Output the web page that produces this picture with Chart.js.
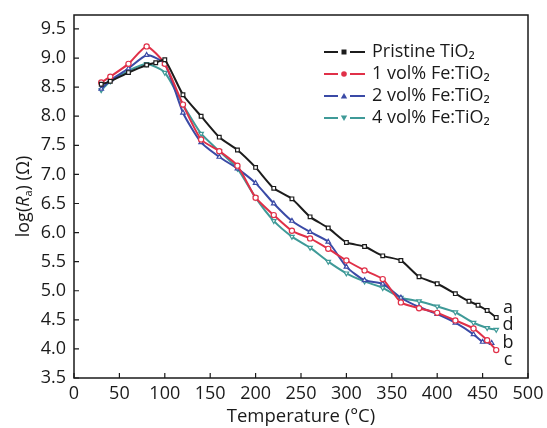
<!DOCTYPE html>
<html>
<head>
<meta charset="utf-8">
<script src="https://cdn.jsdelivr.net/npm/chart.js@4"></script>
<style>
  html, body { margin: 0; padding: 0; background: #fff; }
  #wrap { width: 547px; height: 428px; }
</style>
</head>
<body>
<div id="wrap"><canvas id="resistanceChart"></canvas></div>
<script>
// temperatures (°C) and log(Ra) values
const pristineTemp = [30, 40, 60, 80, 90, 100, 120, 140, 160, 180, 200, 220, 240, 260, 280, 300, 320, 340, 360, 380, 400, 420, 435, 445, 455, 465];
const pristineLog = [8.55, 8.6, 8.75, 8.88, 8.92, 8.97, 8.37, 8.0, 7.64, 7.42, 7.12, 6.76, 6.58, 6.27, 6.08, 5.83, 5.76, 5.6, 5.52, 5.24, 5.12, 4.95, 4.82, 4.75, 4.66, 4.54];

const fe1Temp = [30, 40, 60, 80, 100, 120, 140, 160, 180, 200, 220, 240, 260, 280, 300, 320, 340, 360, 380, 400, 420, 440, 455, 465];
const fe1Log = [8.58, 8.68, 8.9, 9.2, 8.9, 8.2, 7.6, 7.4, 7.15, 6.6, 6.3, 6.03, 5.9, 5.72, 5.52, 5.35, 5.2, 4.8, 4.7, 4.62, 4.49, 4.35, 4.15, 3.98];

const fe2Temp = [30, 40, 60, 80, 100, 120, 140, 160, 180, 200, 220, 240, 260, 280, 300, 320, 340, 360, 380, 400, 420, 440, 450, 460];
const fe2Log = [8.47, 8.62, 8.82, 9.05, 8.9, 8.06, 7.55, 7.3, 7.1, 6.85, 6.5, 6.2, 6.01, 5.84, 5.41, 5.18, 5.12, 4.88, 4.72, 4.6, 4.45, 4.25, 4.12, 4.1];

const fe4Temp = [30, 40, 60, 80, 100, 120, 140, 160, 180, 200, 220, 240, 260, 280, 300, 320, 340, 360, 380, 400, 420, 440, 455, 465];
const fe4Log = [8.45, 8.6, 8.78, 8.9, 8.75, 8.2, 7.7, 7.4, 7.1, 6.6, 6.2, 5.93, 5.74, 5.5, 5.3, 5.16, 5.05, 4.88, 4.82, 4.73, 4.63, 4.45, 4.36, 4.33];

const seriesNames = ["Pristine TiO₂", "1 vol% Fe:TiO₂", "2 vol% Fe:TiO₂", "4 vol% Fe:TiO₂"];
const xTicks = [0, 50, 100, 150, 200, 250, 300, 350, 400, 450, 500];
const yTicks = [3.5, 4.0, 4.5, 5.0, 5.5, 6.0, 6.5, 7.0, 7.5, 8.0, 8.5, 9.0, 9.5];
const endLabels = ["a", "d", "b", "c"];
const endLabelTemp = [478, 478, 478, 478];
const endLabelLog = [4.7, 4.41, 4.1, 3.81];

const FONT = "'Open Sans', 'DejaVu Sans', sans-serif";
const INK = "#1a1a1a";

const colors = ["#1c1c1c", "#e03048", "#3a4aa6", "#3f9a98"];
const markers = ["rect", "circle", "triangle", "triangle"];
const markerRot = [0, 0, 0, 180];

const toPoints = (t, v) => t.map((x, i) => ({ x: x, y: v[i] }));
const temps = [pristineTemp, fe1Temp, fe2Temp, fe4Temp];
const logs = [pristineLog, fe1Log, fe2Log, fe4Log];

const datasets = seriesNames.map((name, i) => ({
  label: name,
  data: toPoints(temps[i], logs[i]),
  borderColor: colors[i],
  borderWidth: 2,
  tension: 0.2,
  pointStyle: markers[i],
  rotation: markerRot[i],
  pointRadius: 2.6,
  pointBorderWidth: 1.2,
  pointBackgroundColor: "#ffffff",
  pointBorderColor: colors[i]
}));

// frame, inward tick marks, legend, y title, end letters
const decorations = {
  id: "decorations",
  afterDraw(chart) {
    const c = chart.ctx;
    const a = chart.chartArea;
    const xs = chart.scales.x;
    const ys = chart.scales.y;
    c.save();
    c.strokeStyle = INK;
    c.lineWidth = 1.5;
    c.strokeRect(a.left, a.top, a.right - a.left, a.bottom - a.top);

    c.lineWidth = 1.2;
    c.beginPath();
    xTicks.forEach(v => {
      const px = xs.getPixelForValue(v);
      c.moveTo(px, a.bottom);
      c.lineTo(px, a.bottom - 5);
    });
    yTicks.forEach(v => {
      const py = ys.getPixelForValue(v);
      c.moveTo(a.left, py);
      c.lineTo(a.left + 5, py);
    });
    c.stroke();

    // legend
    const rowY = [52, 74, 96, 118];
    seriesNames.forEach((name, i) => {
      const y = rowY[i];
      c.strokeStyle = colors[i];
      c.lineWidth = 2.2;
      c.beginPath();
      c.moveTo(324, y);
      c.lineTo(338, y);
      c.moveTo(350, y);
      c.lineTo(365, y);
      c.stroke();
      c.fillStyle = colors[i];
      c.beginPath();
      if (markers[i] === "rect") {
        c.rect(341.5, y - 2.5, 5, 5);
      } else if (markers[i] === "circle") {
        c.arc(344, y, 2.8, 0, Math.PI * 2);
      } else if (markerRot[i] === 0) {
        c.moveTo(344, y - 3); c.lineTo(347.2, y + 2.5); c.lineTo(340.8, y + 2.5);
      } else {
        c.moveTo(344, y + 3); c.lineTo(347.2, y - 2.5); c.lineTo(340.8, y - 2.5);
      }
      c.fill();
      c.fillStyle = INK;
      c.font = "18px " + FONT;
      c.textAlign = "left";
      c.textBaseline = "middle";
      c.fillText(name, 372, y);
    });

    // end letters
    c.font = "18px " + FONT;
    c.textAlign = "center";
    c.textBaseline = "middle";
    endLabels.forEach((t, i) => {
      c.fillText(t, xs.getPixelForValue(endLabelTemp[i]), ys.getPixelForValue(endLabelLog[i]));
    });

    // y title: log(R_a) (Ω)
    c.translate(24, (a.top + a.bottom) / 2);
    c.rotate(-Math.PI / 2);
    c.textAlign = "left";
    c.textBaseline = "middle";
    const parts = [
      { t: "log(", f: "18px " + FONT, dy: 0 },
      { t: "R", f: "italic 18px " + FONT, dy: 0 },
      { t: "a", f: "11px " + FONT, dy: 5 },
      { t: ") (Ω)", f: "18px " + FONT, dy: 0 }
    ];
    let w = 0;
    parts.forEach(p => { c.font = p.f; w += c.measureText(p.t).width; });
    let x = -w / 2;
    parts.forEach(p => {
      c.font = p.f;
      c.fillText(p.t, x, p.dy);
      x += c.measureText(p.t).width;
    });
    c.restore();
  }
};

const ctx = document.getElementById("resistanceChart");

new Chart(ctx, {
  type: "line",
  data: { datasets: datasets },
  options: {
    responsive: true,
    maintainAspectRatio: false,
    animation: false,
    layout: { padding: { left: 0, right: 19, top: 15, bottom: 0 } },
    plugins: {
      legend: { display: false },
      tooltip: { enabled: false }
    },
    scales: {
      x: {
        type: "linear",
        min: 0,
        max: 500,
        afterBuildTicks: s => { s.ticks = xTicks.map(v => ({ value: v })); },
        afterFit: s => { s.height = 50; s.paddingLeft = 0; s.paddingRight = 0; },
        grid: { display: false, drawTicks: false },
        border: { display: false },
        ticks: { color: INK, font: { family: FONT, size: 18 }, padding: 5, maxRotation: 0 },
        title: {
          display: true,
          text: "Temperature (°C)",
          color: INK,
          font: { family: FONT, size: 18.5 },
          padding: { top: 0, bottom: 0 }
        }
      },
      y: {
        type: "linear",
        min: 3.5,
        max: 9.74,
        afterBuildTicks: s => { s.ticks = yTicks.map(v => ({ value: v })); },
        afterFit: s => { s.width = 74; s.paddingTop = 0; s.paddingBottom = 0; },
        grid: { display: false, drawTicks: false },
        border: { display: false },
        ticks: {
          color: INK,
          font: { family: FONT, size: 18 },
          padding: 8,
          callback: v => Number(v).toFixed(1)
        }
      }
    }
  },
  plugins: [decorations]
});
</script>
</body>
</html>
